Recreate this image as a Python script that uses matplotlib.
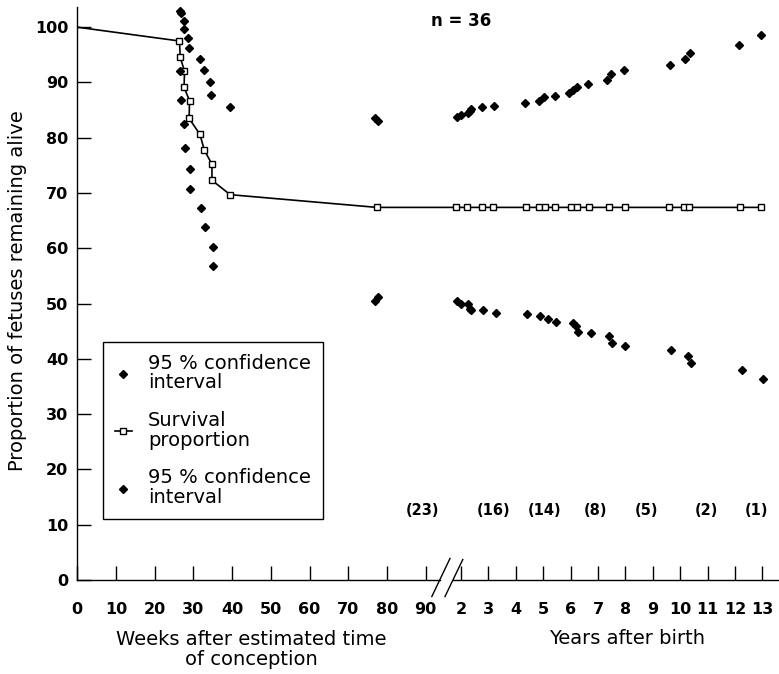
import matplotlib
matplotlib.use("Agg")
import matplotlib.pyplot as plt

# survival proportion, fetal period (weeks after conception)
surv_weeks = [0, 26.4, 26.6, 27.7, 27.6, 29.0, 28.9, 31.7, 32.8, 34.8, 34.8, 39.5, 77.4]
surv_weeks_val = [100, 97.5, 94.6, 92.0, 89.1, 86.7, 83.5, 80.6, 77.8, 75.2, 72.3, 69.7, 67.4]

# survival proportion after birth (years), censored children
surv_years = [1.82, 2.21, 2.75, 3.15, 4.37, 4.86, 5.08, 5.43, 6.00, 6.22, 6.67, 7.41,
              7.97, 9.58, 10.14, 10.32, 12.18, 12.95]
surv_years_val = [67.4, 67.4, 67.4, 67.4, 67.4, 67.4, 67.4, 67.4, 67.4, 67.4, 67.4, 67.4,
                  67.4, 67.4, 67.4, 67.4, 67.4, 67.4]

# 95 % confidence interval, weeks part
upper_weeks = [26.5, 26.7, 27.6, 27.6, 28.5, 28.9, 31.7, 32.7, 34.4, 34.5, 39.4, 77.0, 77.7]
upper_weeks_val = [102.9, 102.5, 101.1, 99.6, 98.1, 96.2, 94.2, 92.2, 90.1, 87.7, 85.5, 83.6, 83.1]
lower_weeks = [26.6, 26.7, 27.6, 27.8, 29.0, 29.0, 32.0, 32.9, 35.1, 35.1, 77.0, 77.8]
lower_weeks_val = [92.0, 86.8, 82.4, 78.2, 74.4, 70.7, 67.2, 63.8, 60.2, 56.8, 50.5, 51.2]

# 95 % confidence interval, years part
upper_years = [1.86, 1.99, 2.27, 2.33, 2.35, 2.76, 3.22, 4.34, 4.85, 5.04, 5.42, 5.95,
               6.10, 6.24, 6.65, 7.32, 7.46, 7.94, 9.62, 10.18, 10.35, 12.14, 12.95]
upper_years_val = [83.7, 84.1, 84.5, 84.9, 85.2, 85.6, 85.7, 86.3, 86.7, 87.3, 87.6, 88.1,
                   88.6, 89.2, 89.8, 90.4, 91.5, 92.2, 93.1, 94.2, 95.4, 96.8, 98.6]
lower_years = [1.86, 1.99, 2.27, 2.33, 2.35, 2.81, 3.27, 4.40, 4.89, 5.16, 5.46, 6.10,
               6.19, 6.28, 6.73, 7.39, 7.52, 8.00, 9.66, 10.27, 10.41, 12.26, 13.03]
lower_years_val = [50.5, 50.0, 49.9, 49.1, 48.8, 48.8, 48.3, 48.2, 47.8, 47.3, 46.7, 46.5,
                   46.0, 44.9, 44.7, 44.1, 42.9, 42.4, 41.6, 40.5, 39.2, 37.9, 36.3]

# numbers at risk
risk_labels = ["(23)", "(16)", "(14)", "(8)", "(5)", "(2)", "(1)"]
risk_years = [None, 3.18, 5.04, 6.91, 8.78, 10.95, 12.79]
risk_week_23 = 89.3

week_ticks = [0, 10, 20, 30, 40, 50, 60, 70, 80, 90]
year_ticks = [2, 3, 4, 5, 6, 7, 8, 9, 10, 11, 12, 13]

# broken axis: years drawn after the weeks, on the same axis
YEAR2_POS = 99.15
YEAR_WIDTH = 7.08


def year_pos(y):
    return YEAR2_POS + (y - 2) * YEAR_WIDTH


plt.rcParams["font.family"] = ["DejaVu Sans"]

fig = plt.figure(figsize=(7.79, 6.74), dpi=100)
ax = fig.add_axes([0.0992, 0.1395, 0.9008, 0.8497])

xs = surv_weeks + [year_pos(y) for y in surv_years]
ys = surv_weeks_val + surv_years_val
surv, = ax.plot(xs, ys, color="black", lw=1.2, marker="s", markersize=5,
                markerfacecolor="white", markeredgecolor="black", markeredgewidth=1,
                markevery=list(range(1, len(xs))), label="Survival\nproportion")

up, = ax.plot(upper_weeks + [year_pos(y) for y in upper_years],
              upper_weeks_val + upper_years_val, ls="none", marker="D",
              markersize=3.6, color="black", label="95 % confidence\ninterval")
lo, = ax.plot(lower_weeks + [year_pos(y) for y in lower_years],
              lower_weeks_val + lower_years_val, ls="none", marker="D",
              markersize=3.6, color="black", label="95 % confidence\ninterval")

for lab, yr in zip(risk_labels, risk_years):
    x = risk_week_23 if yr is None else year_pos(yr)
    ax.text(x, 12.5, lab, ha="center", va="center", fontsize=10.5, fontweight="bold")

ax.text(year_pos(2.0), 101.2, "n = 36", ha="center", va="center",
        fontsize=12, fontweight="bold")

ax.set_xlim(0, 181.3)
ax.set_ylim(0, 103.6)

ax.set_xticks(week_ticks + [year_pos(y) for y in year_ticks])
ax.set_xticklabels([str(t) for t in week_ticks] + [str(t) for t in year_ticks],
                   fontsize=11.5, fontweight="bold")
ax.set_yticks(range(0, 101, 10))
ax.set_yticklabels([str(t) for t in range(0, 101, 10)], fontsize=11.5, fontweight="bold")
ax.tick_params(axis="x", direction="in", length=10, width=1, pad=16)
ax.tick_params(axis="y", direction="in", length=10, width=1, pad=6.5)

for s in ["top", "right", "bottom"]:
    ax.spines[s].set_visible(False)
ax.spines["left"].set_linewidth(1)

# bottom axis line with a break
xt = ax.get_xaxis_transform()
ax.plot([0, 93.6], [0, 0], color="black", lw=1, transform=xt, clip_on=False)
ax.plot([97.0, 181.3], [0, 0], color="black", lw=1, transform=xt, clip_on=False)
ax.plot([91.6, 96.3], [-3.0, 3.9], color="black", lw=1, clip_on=False)
ax.plot([95.0, 99.6], [-3.0, 3.7], color="black", lw=1, clip_on=False)

ax.set_ylabel("Proportion of fetuses remaining alive", fontsize=14, va="center")
ax.yaxis.set_label_coords(-0.0845, 0.506)

ax.text(44.9, -0.1214, "Weeks after estimated time\nof conception", transform=xt,
        ha="center", va="center", fontsize=14, linespacing=1.1)
ax.text(142.0, -0.103, "Years after birth", transform=xt,
        ha="center", va="center", fontsize=14)

leg = ax.legend(handles=[up, surv, lo], loc="upper left",
                bbox_to_anchor=(0.0366, 0.4156), borderaxespad=0, fontsize=14,
                frameon=True, fancybox=False, edgecolor="black", framealpha=1,
                borderpad=0.6, handlelength=0.9, handletextpad=0.82,
                labelspacing=0.96)
leg.get_frame().set_linewidth(1)
for t in leg.get_texts():
    t.set_linespacing(1.05)

fig.savefig("out.png", dpi=100)
